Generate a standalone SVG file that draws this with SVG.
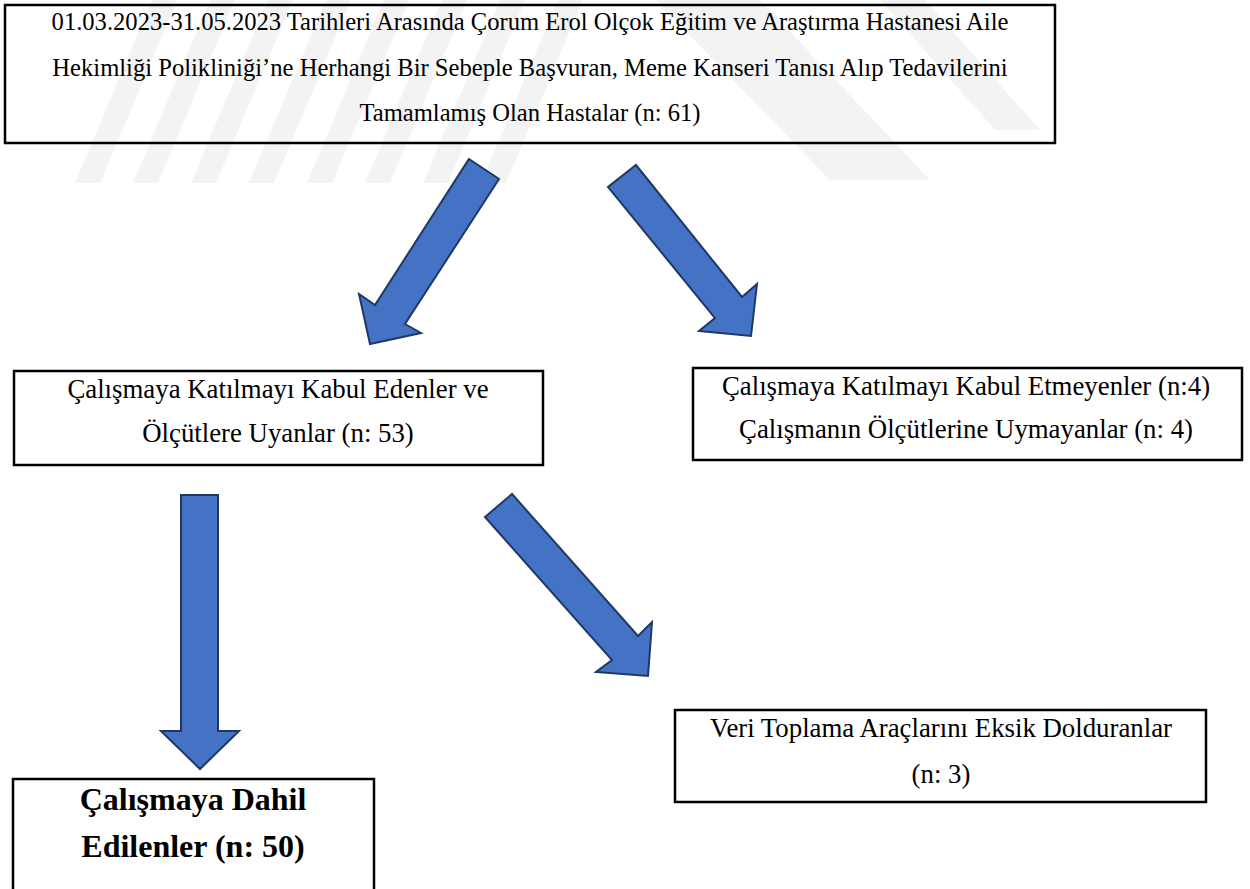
<svg xmlns="http://www.w3.org/2000/svg" width="1250" height="889" viewBox="0 0 1250 889">
<style>
.box{fill:#fff;stroke:#000;stroke-width:2.5}
.clear{fill:none}
.t{font-family:"Liberation Serif","Times New Roman",serif;fill:#000;text-anchor:middle}
.s24{font-size:24.6px}
.s26{font-size:26.8px}
.b{font-size:32px;font-weight:bold}
.arr{fill:#4472C4;stroke:#1F3864;stroke-width:2;stroke-linejoin:miter}
.wm{fill:#f3f3f3}
</style>
<rect width="1250" height="889" fill="#fff"/>
<g id="watermark">
<polygon class="wm" points="75,183 100,183 177,0 152,0"/>
<polygon class="wm" points="133,183 158,183 235,0 210,0"/>
<polygon class="wm" points="191,183 216,183 293,0 268,0"/>
<polygon class="wm" points="249,183 274,183 351,0 326,0"/>
<polygon class="wm" points="307,183 332,183 409,0 384,0"/>
<polygon class="wm" points="365,183 390,183 467,0 442,0"/>
<polygon class="wm" points="423,183 448,183 525,0 500,0"/>
<polygon class="wm" points="481,183 506,183 583,0 558,0"/>
<polygon class="wm" points="655,0 760,0 930,180 830,180"/>
<polygon class="wm" points="880,0 925,0 1040,130 995,130"/>
</g>
<g id="n1">
<rect class="box clear" x="5" y="5" width="1050" height="138"/>
<text class="t s24" x="530" y="30">01.03.2023-31.05.2023 Tarihleri Arasında Çorum Erol Olçok Eğitim ve Araştırma Hastanesi Aile</text>
<text class="t s24" x="530" y="76">Hekimliği Polikliniği’ne Herhangi Bir Sebeple Başvuran, Meme Kanseri Tanısı Alıp Tedavilerini</text>
<text class="t s24" x="530" y="121">Tamamlamış Olan Hastalar (n: 61)</text>
</g>
<g id="n2">
<rect class="box" x="14" y="371" width="529" height="94"/>
<text class="t s26" x="278" y="398">Çalışmaya Katılmayı Kabul Edenler ve</text>
<text class="t s26" x="278" y="442">Ölçütlere Uyanlar (n: 53)</text>
</g>
<g id="n3">
<rect class="box" x="693" y="368" width="549" height="92"/>
<text class="t s26" x="966" y="395">Çalışmaya Katılmayı Kabul Etmeyenler (n:4)</text>
<text class="t s26" x="966" y="438">Çalışmanın Ölçütlerine Uymayanlar (n: 4)</text>
</g>
<g id="n4">
<rect class="box" x="675" y="710" width="531" height="92"/>
<text class="t s26" x="941" y="737">Veri Toplama Araçlarını Eksik Dolduranlar</text>
<text class="t s26" x="941" y="783">(n: 3)</text>
</g>
<g id="n5">
<rect class="box" x="13" y="779" width="361" height="130"/>
<text class="t b" x="193" y="810">Çalışmaya Dahil</text>
<text class="t b" x="193" y="857">Edilenler (n: 50)</text>
</g>
<g id="connectors">
<polygon class="arr" points="469,159 499,179 405,324 421,333 370,344 359,294 375,305"/>
<polygon class="arr" points="636,165 742,297 757,284 751,336 699,331 715,318 608,187"/>
<polygon class="arr" points="181,495 218,495 218,731 239,731 200,769 161,731 181,731"/>
<polygon class="arr" points="512,494 638,636 652,622 648,676 596,672 612,660 485,517"/>
</g>
</svg>
